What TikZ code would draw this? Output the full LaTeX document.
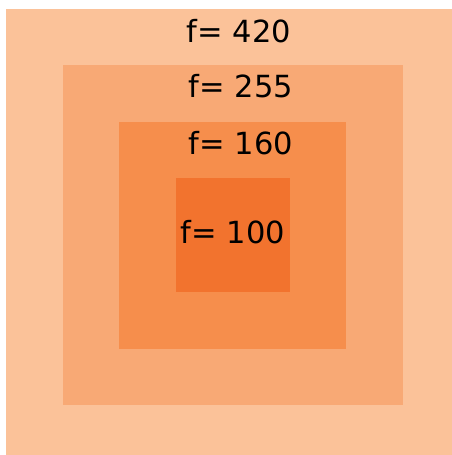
\documentclass[tikz,border=0pt]{standalone}
\usepackage{fontspec}
\setmainfont{DejaVu Sans}
\definecolor{c1}{HTML}{FBC299}
\definecolor{c2}{HTML}{F8A975}
\definecolor{c3}{HTML}{F68E4C}
\definecolor{c4}{HTML}{F2732E}
\begin{document}
\begin{tikzpicture}[x=1bp,y=-1bp,
  lab/.style={anchor=base,inner sep=0pt,font=\fontsize{30.5bp}{33bp}\selectfont,text=black}]
\useasboundingbox (0,0) rectangle (452,455);
\fill[white] (0,0) rectangle (452,455);
\fill[c1] (6,9) rectangle (452,455);
\fill[c2] (63,65) rectangle (403,405);
\fill[c3] (119,122) rectangle (346,349);
\fill[c4] (176,178) rectangle (290,292);
\node[lab] (t420) at (239,43) {f= 420};
\node[lab] (t255) at (241,98) {f= 255};
\node[lab] (t160) at (241,155) {f= 160};
\node[lab] (t100) at (233,243) {f= 100};
\end{tikzpicture}
\end{document}
